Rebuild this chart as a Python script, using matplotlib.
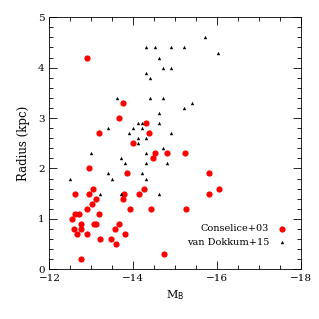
import matplotlib.pyplot as plt
from matplotlib.ticker import MultipleLocator

# Conselice+03 (red circles)
c03_mb = [-12.90, -13.75, -13.65, -14.31, -14.37, -13.18, -13.98, -14.52, -14.81, -15.22,
          -14.46, -12.95, -13.85, -15.81, -16.05, -14.26, -13.05, -12.61, -12.95, -13.77,
          -14.14, -15.81, -13.11, -13.75, -13.01, -12.90, -13.92, -14.42, -15.25, -12.62,
          -12.71, -13.18, -12.54, -12.76, -13.07, -13.12, -13.66, -12.59, -12.75, -13.57,
          -12.65, -12.90, -13.81, -13.21, -13.46, -13.58, -12.75, -14.73]
c03_r = [4.20, 3.30, 3.00, 2.90, 2.70, 2.70, 2.50, 2.30, 2.30, 2.30,
         2.20, 2.00, 1.90, 1.90, 1.60, 1.60, 1.60, 1.50, 1.50, 1.50,
         1.50, 1.50, 1.40, 1.40, 1.30, 1.20, 1.20, 1.20, 1.20, 1.10,
         1.10, 1.10, 1.00, 0.90, 0.90, 0.90, 0.90, 0.80, 0.80, 0.80,
         0.70, 0.70, 0.70, 0.60, 0.60, 0.50, 0.20, 0.30]

# van Dokkum+15 (black triangles)
vd15_mb = [-15.71, -14.30, -14.51, -14.90, -15.21, -16.02, -14.60, -14.71, -14.90, -14.30,
           -14.40, -13.60, -14.40, -14.71, -15.41, -15.21, -14.60, -14.10, -14.21, -14.60,
           -13.40, -14.00, -14.21, -13.90, -14.90, -14.10, -14.30, -14.10, -14.71, -13.00,
           -14.30, -13.70, -13.80, -14.30, -14.81, -13.40, -14.20, -12.50, -13.50, -14.30,
           -13.20, -13.70, -14.60]
vd15_r = [4.60, 4.40, 4.40, 4.40, 4.40, 4.30, 4.20, 4.00, 4.00, 3.90,
          3.80, 3.40, 3.40, 3.40, 3.30, 3.20, 3.10, 2.90, 2.90, 2.90,
          2.80, 2.80, 2.80, 2.70, 2.70, 2.60, 2.60, 2.50, 2.40, 2.30,
          2.30, 2.20, 2.10, 2.10, 2.10, 1.90, 1.90, 1.80, 1.80, 1.80,
          1.50, 1.50, 1.50]

plt.rcParams['font.family'] = ['DejaVu Serif']

fig = plt.figure(figsize=(3.19, 3.19), dpi=100)
ax = fig.add_axes([0.155, 0.156, 0.789, 0.79])

ax.scatter(c03_mb, c03_r, s=20, c='red', marker='o', linewidths=0, label='Conselice+03')
ax.scatter(vd15_mb, vd15_r, s=6, c='black', marker='^', linewidths=0, label='van Dokkum+15')

ax.set_xlim(-12, -18)
ax.set_ylim(0, 5)
ax.xaxis.set_major_locator(MultipleLocator(2))
ax.xaxis.set_minor_locator(MultipleLocator(0.5))
ax.yaxis.set_major_locator(MultipleLocator(1))
ax.yaxis.set_minor_locator(MultipleLocator(0.2))
ax.tick_params(which='both', direction='in', top=True, right=True, labelsize=7.5, width=0.6)
ax.tick_params(which='major', length=6)
ax.tick_params(which='minor', length=3)
for sp in ax.spines.values():
    sp.set_linewidth(0.6)

ax.set_xlabel(r'M$_{\rm B}$', fontsize=8)
ax.set_ylabel('Radius (kpc)', fontsize=8.5, labelpad=6)

ax.legend(loc='lower right', bbox_to_anchor=(1.0, 0.05), markerfirst=False, frameon=False,
          fontsize=7, handletextpad=0.3, borderaxespad=0.6, labelspacing=0.5, scatterpoints=1)

fig.savefig('out.png', dpi=100)
